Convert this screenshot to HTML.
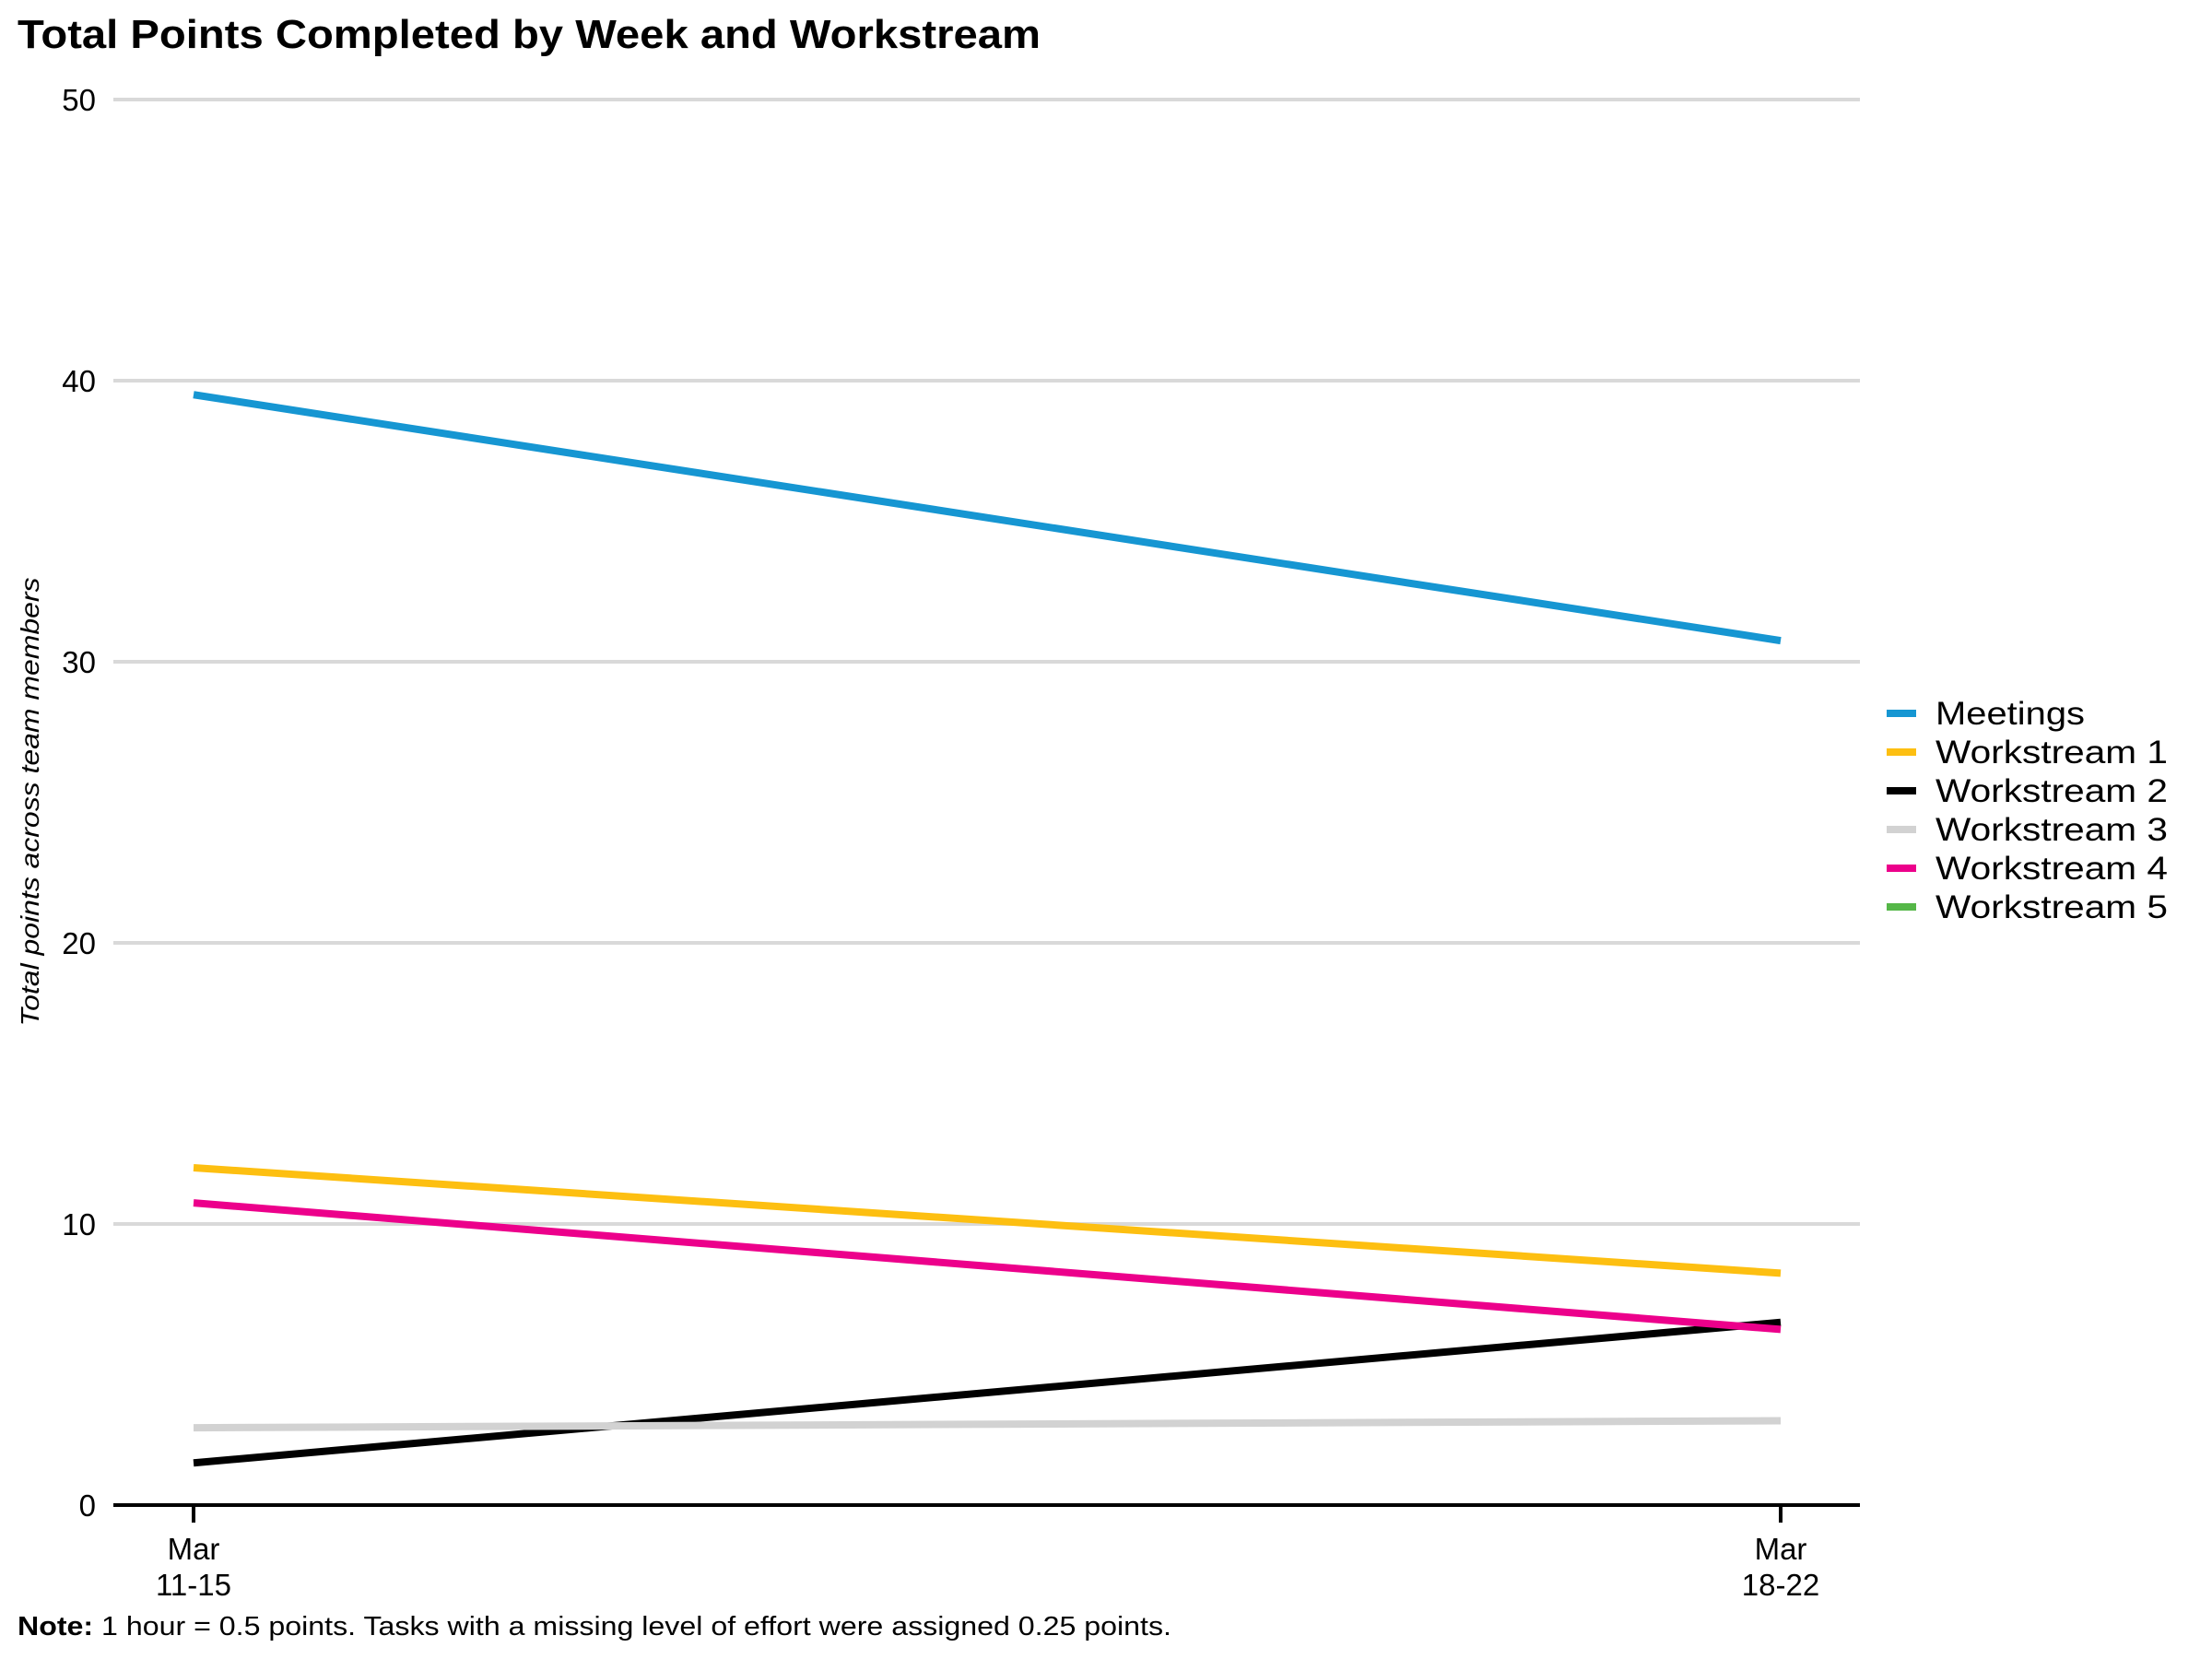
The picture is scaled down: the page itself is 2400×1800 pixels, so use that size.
<!DOCTYPE html>
<html><head><meta charset="utf-8"><style>
html,body{margin:0;padding:0;background:#fff;}
svg{display:block;font-family:"Liberation Sans",sans-serif;}
</style></head><body>
<svg id="chart" width="2400" height="1800" viewBox="0 0 2400 1800" xmlns="http://www.w3.org/2000/svg">
<text x="19" y="52" font-size="44" font-weight="bold" textLength="1110" lengthAdjust="spacingAndGlyphs">Total Points Completed by Week and Workstream</text>
<g id="grid"></g>
<g id="lines"></g>
<g id="legend"></g>
<text transform="translate(42,870) rotate(-90)" text-anchor="middle" font-size="28" font-style="italic" textLength="487" lengthAdjust="spacingAndGlyphs">Total points across team members</text>
<text x="19" y="1774" font-size="29" textLength="1252" lengthAdjust="spacingAndGlyphs"><tspan font-weight="bold">Note:</tspan> 1 hour = 0.5 points. Tasks with a missing level of effort were assigned 0.25 points.</text>
</svg>
<script>
const categories = [["Mar","11-15"],["Mar","18-22"]];
const seriesNames = ["Meetings","Workstream 1","Workstream 2","Workstream 3","Workstream 4","Workstream 5"];
const meetings = [39.5, 30.75];
const workstream1 = [12, 8.25];
const workstream2 = [1.5, 6.5];
const workstream3 = [2.75, 3.0];
const workstream4 = [10.75, 6.25];
const workstream5 = [];
const yTicks = [0,10,20,30,40,50];

const NS="http://www.w3.org/2000/svg";
const colors=["#1696d2","#fdbf11","#000000","#d2d2d2","#ec008b","#55b748"];
const allSeries=[meetings,workstream1,workstream2,workstream3,workstream4,workstream5];
const xL=123,xR=2018,y0=1633,y50=108;
function yScale(v){return y0-(v/50)*(y0-y50);}
function xScale(i){return 210+i*(1932-210)/(categories.length-1);}
function mk(tag,attrs,parent){const e=document.createElementNS(NS,tag);for(const k in attrs)e.setAttribute(k,attrs[k]);parent.appendChild(e);return e;}
const grid=document.getElementById('grid');
yTicks.forEach(t=>{
  if(t!==0){
    const g=mk('line',{x1:xL,x2:xR,y1:yScale(t),y2:yScale(t),stroke:'#d9d9d9','stroke-width':4},grid);
    
    
  }
  const tx=mk('text',{x:104,y:yScale(t)+12,'text-anchor':'end','font-size':33},grid);
  tx.textContent=t;
  
  
});
const ax=mk('line',{x1:xL,x2:xR,y1:y0,y2:y0,stroke:'#000','stroke-width':4},grid);


categories.forEach((c,i)=>{
  const tk=mk('line',{x1:xScale(i),x2:xScale(i),y1:y0,y2:y0+19,stroke:'#000','stroke-width':4},grid);
  
  
  const t1=mk('text',{x:xScale(i),y:1692,'text-anchor':'middle','font-size':33},grid);
  t1.textContent=c[0];
  
  
  const t2=mk('text',{x:xScale(i),y:1731,'text-anchor':'middle','font-size':33},grid);
  t2.textContent=c[1];
  
  
});
const lines=document.getElementById('lines');
allSeries.forEach((s,k)=>{
  if(s.length<2) return;
  const p=mk('polyline',{points:s.map((v,i)=>xScale(i)+','+yScale(v)).join(' '),fill:'none',stroke:colors[k],'stroke-width':8},lines);
  
  
});
const leg=document.getElementById('legend');
seriesNames.forEach((n,k)=>{
  const y=774+k*42;
  const l=mk('line',{x1:2047,x2:2079,y1:y,y2:y,stroke:colors[k],'stroke-width':8},leg);
  
  
  const t=mk('text',{x:2100,y:y+12,'font-size':35,textLength:n.length>8?252:162,lengthAdjust:'spacingAndGlyphs'},leg);
  t.textContent=n;
  
  
});
</script>
</body></html>
